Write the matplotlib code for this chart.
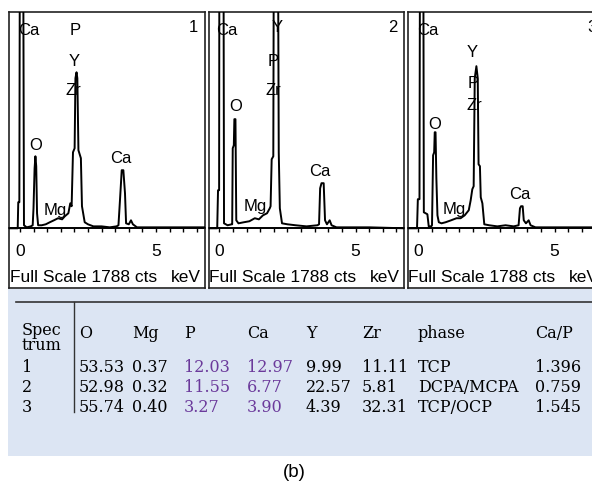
import matplotlib
matplotlib.use("Agg")
import matplotlib.pyplot as plt
from matplotlib.ticker import MultipleLocator
from matplotlib.patches import Rectangle

# EDS spectra (energy in keV, counts; full scale 1788 cts)
full_scale = 1788
e1 = [-0.40, -0.08, -0.06, -0.02, 0.00, 0.05, 0.12, 0.15, 0.25, 0.40, 0.47, 0.50, 0.54, 0.57,
      0.60, 0.63, 0.67, 0.80, 0.95, 1.10, 1.25, 1.40, 1.55, 1.65, 1.78, 1.85, 1.90, 1.95, 2.01,
      2.04, 2.08, 2.11, 2.15, 2.24, 2.28, 2.38, 2.50, 2.70, 3.00, 3.30, 3.55, 3.62, 3.68, 3.74,
      3.80, 3.86, 3.90, 4.00, 4.08, 4.15, 4.30, 5.00, 6.00, 6.80]
c1 = [0, 0, 215, 215, 2500, 2500, 2500, 25, 8, 16, 25, 165, 495, 594,
      512, 124, 25, 25, 33, 50, 66, 83, 74, 99, 124, 206, 182, 627, 660,
      1238, 1287, 1238, 644, 578, 182, 50, 33, 16, 16, 8, 16, 25, 248, 479,
      479, 289, 41, 33, 66, 33, 8, 8, 8, 8]

e2 = [-0.40, -0.08, -0.05, -0.01, 0.00, 0.15, 0.17, 0.30, 0.45, 0.47, 0.49, 0.53, 0.55, 0.59,
      0.62, 0.70, 0.90, 1.10, 1.30, 1.45, 1.60, 1.75, 1.85, 1.88, 1.92, 1.98, 2.00, 2.15, 2.18,
      2.22, 2.30, 2.50, 2.80, 3.20, 3.60, 3.66, 3.70, 3.75, 3.83, 3.88, 3.95, 4.05, 4.12, 4.30,
      5.50, 6.80]
c2 = [0, 0, 314, 314, 2500, 2500, 41, 25, 33, 33, 660, 685, 900, 900,
      66, 41, 50, 58, 83, 74, 107, 124, 165, 182, 569, 594, 2500, 2500, 627,
      165, 41, 33, 25, 16, 25, 33, 330, 372, 372, 66, 33, 66, 25, 8,
      8, 0]

e3 = [-0.40, -0.05, -0.02, 0.04, 0.06, 0.18, 0.20, 0.33, 0.38, 0.47, 0.50, 0.54, 0.58, 0.60,
      0.63, 0.66, 0.70, 0.75, 0.85, 1.00, 1.20, 1.40, 1.55, 1.70, 1.85, 1.92, 1.98, 2.03, 2.07,
      2.13, 2.18, 2.21, 2.26, 2.29, 2.35, 2.42, 2.60, 2.90, 3.20, 3.50, 3.68, 3.73, 3.77, 3.83,
      3.87, 3.95, 4.05, 4.12, 4.30, 6.80]
c3 = [0, 0, 240, 240, 2500, 2500, 132, 116, 16, 16, 25, 602, 627, 792,
      792, 412, 107, 50, 41, 50, 66, 83, 83, 107, 149, 231, 322, 347, 1238,
      1337, 1238, 528, 512, 256, 206, 33, 25, 16, 25, 16, 25, 165, 182, 182,
      66, 41, 66, 25, 8, 8]

spectra = [(e1, c1), (e2, c2), (e3, c3)]
spectrum_names = ["1", "2", "3"]

# peak labels: (text, energy, counts)
labels1 = [("Ca", 0.34, 1636), ("P", 2.03, 1636), ("Y", 2.00, 1388), ("Zr", 1.95, 1141),
           ("O", 0.58, 695), ("Mg", 1.31, 159), ("Ca", 3.71, 580)]
labels2 = [("Ca", 0.29, 1636), ("Y", 2.11, 1665), ("P", 1.98, 1388), ("Zr", 1.98, 1141),
           ("O", 0.59, 1012), ("Mg", 1.32, 185), ("Ca", 3.70, 480)]
labels3 = [("Ca", 0.33, 1636), ("Y", 1.99, 1455), ("P", 2.01, 1200), ("Zr", 2.07, 1020),
           ("O", 0.59, 864), ("Mg", 1.32, 167), ("Ca", 3.74, 291)]
peak_labels = [labels1, labels2, labels3]

# composition table
header = ["Spec\ntrum", "O", "Mg", "P", "Ca", "Y", "Zr", "phase", "Ca/P"]
spectrum = ["1", "2", "3"]
o_vals = [53.53, 52.98, 55.74]
mg_vals = [0.37, 0.32, 0.40]
p_vals = [12.03, 11.55, 3.27]
ca_vals = [12.97, 6.77, 3.90]
y_vals = [9.99, 22.57, 4.39]
zr_vals = [11.11, 5.81, 32.31]
phase = ["TCP", "DCPA/MCPA", "TCP/OCP"]
ca_p = [1.396, 0.759, 1.545]

W, H = 592, 485
fig = plt.figure(figsize=(W / 100, H / 100), dpi=100)
sans = "Liberation Sans"
serif = "DejaVu Serif"

# panel frames in pixels
panel_left = [9, 208.5, 407.5]
panel_w = 195.5
top, bottom = 12.5, 288.5
base_frac = (bottom - 229.3) / (bottom - top)
xmin, xmax = -0.40, 6.78
ymax = full_scale
ymin = -ymax * base_frac / (1 - base_frac)

for i in range(3):
    ax = fig.add_axes([panel_left[i] / W, 1 - bottom / H, panel_w / W, (bottom - top) / H])
    ax.set_xlim(xmin, xmax)
    ax.set_ylim(ymin, ymax)
    ax.set_xticks([])
    ax.set_yticks([])
    for s in ax.spines.values():
        s.set_linewidth(1.2)
        s.set_color("#222222")
    e, c = spectra[i]
    ax.plot(e, c, color="black", lw=1.4, zorder=3)
    for txt, xe, yc in peak_labels[i]:
        ax.text(xe, yc, txt, ha="center", va="center", fontsize=12, family=sans, zorder=1)
    ax.text(6.36, 1668, spectrum_names[i], ha="center", va="center", fontsize=12, family=sans)
    ax.text(-0.37, -394, "Full Scale %d cts" % full_scale, ha="left", va="center",
            fontsize=12.5, family=sans)
    ax.text(5.54, -394, "keV", ha="left", va="center", fontsize=12.5, family=sans)

    sec = ax.secondary_xaxis(base_frac)
    sec.set_xticks([0, 5])
    sec.xaxis.set_minor_locator(MultipleLocator(0.5))
    sec.tick_params(which="both", direction="out", length=3, width=1, pad=7.4,
                    labelsize=12.5)
    for lab in sec.get_xticklabels():
        lab.set_family(sans)
    sec.spines["bottom"].set_linewidth(1.4)

# table area on a pixel overlay
tab = fig.add_axes([0, 0, 1, 1])
tab.set_xlim(0, W)
tab.set_ylim(H, 0)
tab.axis("off")
tab.add_patch(Rectangle((8, 290), W - 8, 167, facecolor="#dce5f3", edgecolor="none", zorder=0))
tab.plot([16, W], [303, 303], color="#333333", lw=1.2)
tab.plot([74, 74], [303, 413], color="#333333", lw=1.0)

col_x = [22, 79, 132, 184, 247, 306, 362, 418, 535]
purple = "#6b3a9b"
tab.text(col_x[0], 338, header[0], ha="left", va="center", fontsize=11.5, family=serif,
         linespacing=0.85)
for j in range(1, len(header)):
    tab.text(col_x[j], 334, header[j], ha="left", va="center", fontsize=11.5, family=serif)

row_y = [368, 388, 408]
for r in range(3):
    cells = [spectrum[r], "%.2f" % o_vals[r], "%.2f" % mg_vals[r], "%.2f" % p_vals[r],
             "%.2f" % ca_vals[r], "%.2f" % y_vals[r], "%.2f" % zr_vals[r], phase[r],
             "%.3f" % ca_p[r]]
    for j, cell in enumerate(cells):
        col = purple if j in (3, 4) else "black"
        tab.text(col_x[j], row_y[r], cell, ha="left", va="center", fontsize=11.5,
                 family=serif, color=col)

tab.text(294, 473, "(b)", ha="center", va="center", fontsize=13.5, family=sans)

fig.savefig("out.png", dpi=100)
